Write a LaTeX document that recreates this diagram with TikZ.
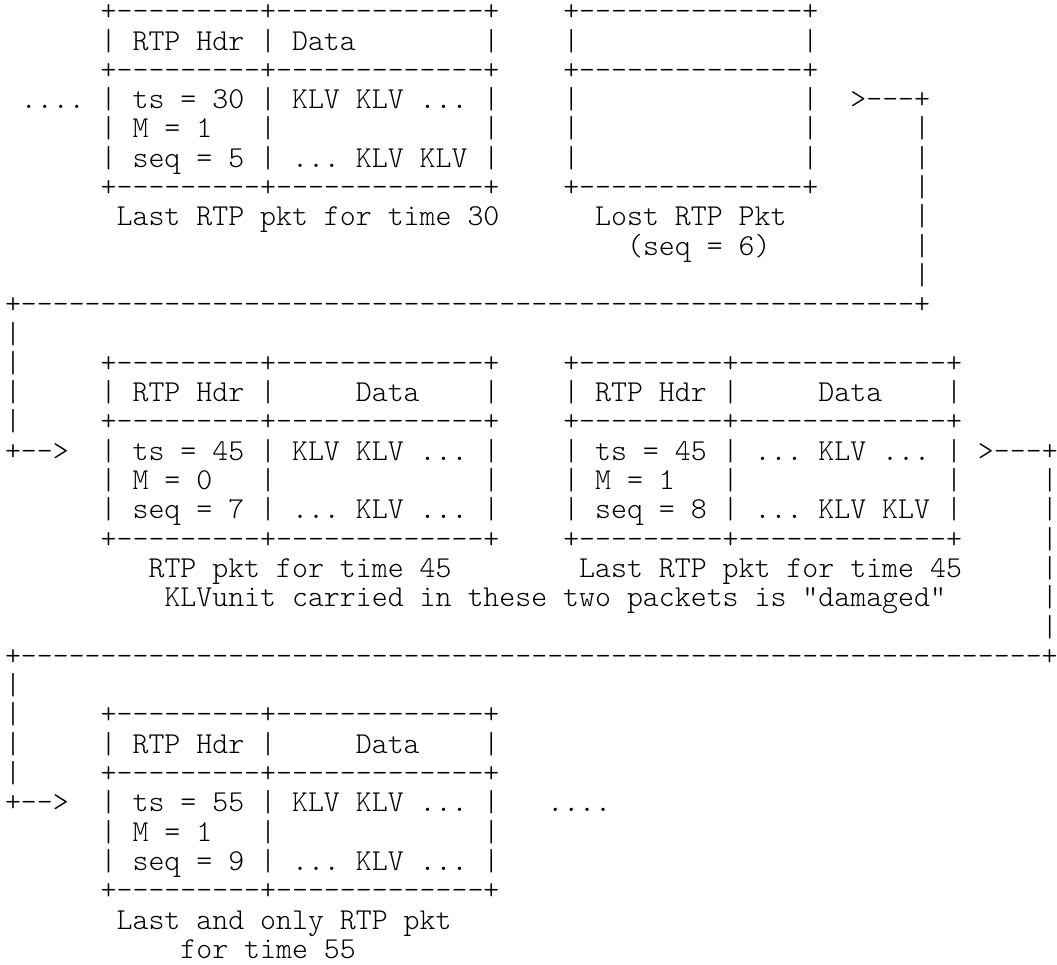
\documentclass[tikz,border=0pt]{standalone}
\usepackage{fontspec}
\setmonofont{lmmonolt10-regular.otf}
\usepackage{tikz}
\newcommand{\dashrun}[1]{\foreach \k in {1,...,#1}{-}}
\newcommand{\blanks}[1]{\hskip#1\fontdimen2\font}
\begin{document}
\begin{tikzpicture}[x=7.975pt, y=-14.65pt,
    ascii/.style={font=\ttfamily\fontsize{15.19}{14.65}\selectfont\frenchspacing,
                  anchor=base west, inner sep=0pt, outer sep=0pt}]
        \useasboundingbox (-0.3135,-0.7099) rectangle (65.956,32.225);

        % Last packet for time 30
        \node[ascii] (inA) at (1,3) {....};
        \node[ascii] (p5top) at (6,0) {+\dashrun{9}+\dashrun{13}+};
        \node[ascii] (p5hdr) at (6,1) {| RTP Hdr | Data\blanks{8}|};
        \node[ascii] (p5mid) at (6,2) {+\dashrun{9}+\dashrun{13}+};
        \node[ascii] (p5ts) at (6,3) {| ts = 30 | KLV KLV ... |};
        \node[ascii] (p5m) at (6,4) {| M = 1\blanks{3}|\blanks{13}|};
        \node[ascii] (p5seq) at (6,5) {| seq = 5 | ... KLV KLV |};
        \node[ascii] (p5bot) at (6,6) {+\dashrun{9}+\dashrun{13}+};
        \node[ascii] (p5cap) at (7,7) {Last RTP pkt for time 30};

        % Lost packet
        \node[ascii] (p6top) at (35,0) {+\dashrun{14}+};
        \node[ascii] (p6hdr) at (35,1) {|\blanks{14}|};
        \node[ascii] (p6mid) at (35,2) {+\dashrun{14}+};
        \node[ascii] (p6ts) at (35,3) {|\blanks{14}|};
        \node[ascii] (p6m) at (35,4) {|\blanks{14}|};
        \node[ascii] (p6seq) at (35,5) {|\blanks{14}|};
        \node[ascii] (p6bot) at (35,6) {+\dashrun{14}+};
        \node[ascii] (p6cap) at (37,7) {Lost RTP Pkt};
        \node[ascii] (p6num) at (39,8) {(seq = 6)};

        % Wrap to second row
        \node[ascii] (outA) at (53,3) {>---+};
        \foreach \r in {4,...,9}
            \node[ascii] (barA\r) at (57,\r) {|};
        \node[ascii] (sepA) at (0,10) {+\dashrun{56}+};
        \foreach \r in {11,...,14}
            \node[ascii] (barB\r) at (0,\r) {|};
        \node[ascii] (inB) at (0,15) {+-->};

        % Packets for time 45
        \node[ascii] (p7top) at (6,12) {+\dashrun{9}+\dashrun{13}+};
        \node[ascii] (p7hdr) at (6,13) {| RTP Hdr |\blanks{5}Data\blanks{4}|};
        \node[ascii] (p7mid) at (6,14) {+\dashrun{9}+\dashrun{13}+};
        \node[ascii] (p7ts) at (6,15) {| ts = 45 | KLV KLV ... |};
        \node[ascii] (p7m) at (6,16) {| M = 0\blanks{3}|\blanks{13}|};
        \node[ascii] (p7seq) at (6,17) {| seq = 7 | ... KLV ... |};
        \node[ascii] (p7bot) at (6,18) {+\dashrun{9}+\dashrun{13}+};
        \node[ascii] (p7cap) at (9,19) {RTP pkt for time 45};

        \node[ascii] (p8top) at (35,12) {+\dashrun{9}+\dashrun{13}+};
        \node[ascii] (p8hdr) at (35,13) {| RTP Hdr |\blanks{5}Data\blanks{4}|};
        \node[ascii] (p8mid) at (35,14) {+\dashrun{9}+\dashrun{13}+};
        \node[ascii] (p8ts) at (35,15) {| ts = 45 | ... KLV ... |};
        \node[ascii] (p8m) at (35,16) {| M = 1\blanks{3}|\blanks{13}|};
        \node[ascii] (p8seq) at (35,17) {| seq = 8 | ... KLV KLV |};
        \node[ascii] (p8bot) at (35,18) {+\dashrun{9}+\dashrun{13}+};
        \node[ascii] (p8cap) at (36,19) {Last RTP pkt for time 45};
        \node[ascii] (damaged) at (10,20) {KLVunit carried in these two packets is "damaged"};

        % Wrap to third row
        \node[ascii] (outB) at (61,15) {>---+};
        \foreach \r in {16,...,21}
            \node[ascii] (barC\r) at (65,\r) {|};
        \node[ascii] (sepB) at (0,22) {+\dashrun{64}+};
        \foreach \r in {23,...,26}
            \node[ascii] (barD\r) at (0,\r) {|};
        \node[ascii] (inC) at (0,27) {+-->};

        % Only packet for time 55
        \node[ascii] (p9top) at (6,24) {+\dashrun{9}+\dashrun{13}+};
        \node[ascii] (p9hdr) at (6,25) {| RTP Hdr |\blanks{5}Data\blanks{4}|};
        \node[ascii] (p9mid) at (6,26) {+\dashrun{9}+\dashrun{13}+};
        \node[ascii] (p9ts) at (6,27) {| ts = 55 | KLV KLV ... |};
        \node[ascii] (p9m) at (6,28) {| M = 1\blanks{3}|\blanks{13}|};
        \node[ascii] (p9seq) at (6,29) {| seq = 9 | ... KLV ... |};
        \node[ascii] (p9bot) at (6,30) {+\dashrun{9}+\dashrun{13}+};
        \node[ascii] (outC) at (34,27) {....};
        \node[ascii] (p9cap) at (7,31) {Last and only RTP pkt};
        \node[ascii] (p9time) at (11,32) {for time 55};
\end{tikzpicture}
\end{document}
